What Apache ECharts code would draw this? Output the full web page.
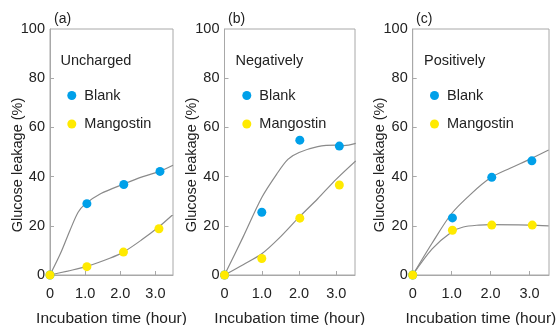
<!DOCTYPE html>
<html>
<head>
<meta charset="utf-8">
<script src="https://cdn.jsdelivr.net/npm/echarts@6/dist/echarts.min.js"></script>
<style>html,body{margin:0;padding:0;background:#fff}#c{width:558px;height:325px}</style>
</head>
<body>
<div id="c"></div>
<script>
// ---- data ----
const xTickValues = [0, 1, 2, 3];
const yTickValues = [0, 20, 40, 60, 80, 100];
const panelLabels = ['(a)', '(b)', '(c)'];
const panelTitles = ['Uncharged', 'Negatively', 'Positively'];
const seriesNames = ['Blank', 'Mangostin'];
const xAxisName = 'Incubation time (hour)';
const yAxisName = 'Glucose leakage (%)';

// measured points [time, leakage]
const blankA = [[0, 0], [1.05, 29], [2.1, 36.8], [3.13, 42.1]];
const mangA  = [[0, 0], [1.05, 3.4], [2.09, 9.3], [3.1, 18.8]];
const blankB = [[0, 0], [1.0, 25.5], [2.02, 54.8], [3.08, 52.4]];
const mangB  = [[0, 0], [1.0, 6.7], [2.02, 23.1], [3.08, 36.6]];
const blankC = [[0, 0], [1.02, 23.2], [2.03, 39.7], [3.06, 46.4]];
const mangC  = [[0, 0], [1.02, 18.2], [2.03, 20.3], [3.07, 20.3]];

// fitted curves
const blankFitA = [[0, 0], [0.3, 8.8], [0.57, 18.2], [0.8, 25.5], [1.0, 28.8], [1.45, 33.1], [2.1, 37], [2.6, 39.8], [3.1, 42], [3.5, 44.6]];
const mangFitA  = [[0, 0], [0.5, 1.6], [1.05, 3.5], [1.7, 6.8], [2.1, 9.4], [2.6, 14.2], [3.1, 19.6], [3.5, 24.6]];
const blankFitB = [[0, 0], [0.5, 15.5], [1.0, 31.5], [1.4, 41], [1.7, 47], [2.0, 49.8], [2.5, 52.2], [3.0, 52.8], [3.2, 52.6], [3.52, 53.5]];
const mangFitB  = [[0, 0], [0.5, 4.2], [1.0, 8.6], [1.5, 15.5], [2.0, 23.5], [2.5, 31], [3.0, 39], [3.52, 46.4]];
const blankFitC = [[0, 0], [0.5, 13], [1.0, 25], [1.5, 33], [2.0, 39.5], [2.5, 43.4], [3.0, 47], [3.49, 50.8]];
const mangFitC  = [[0, 0], [0.5, 10.6], [1.0, 17.5], [1.3, 19.5], [1.7, 20.3], [2.0, 20.5], [3.0, 20.3], [3.49, 20]];

const points = [[blankA, mangA], [blankB, mangB], [blankC, mangC]];
const fits = [[blankFitA, mangFitA], [blankFitB, mangFitB], [blankFitC, mangFitC]];

// ---- style / layout ----
const FONT = "'Liberation Sans', Arial, sans-serif";
const TXT = '#222';
const FRAME = '#a8a8a8';
const LINE = '#8a8a8a';
const COLORS = ['#00a0e9', '#ffea00'];
const grids = [
  {left: 50, right: 385, top: 29, bottom: 50},
  {left: 224.5, right: 203, top: 29, bottom: 50},
  {left: 412.7, right: 9, top: 29, bottom: 50}
];
const labelPos = [54, 228, 416];
const titlePos = [60.5, 235.5, 424];
const legendPos = [67.3, 242.3, 430];

const option = {
  animation: false,
  textStyle: {fontFamily: FONT},
  grid: grids.map(g => Object.assign({show: true, borderColor: FRAME, borderWidth: 1, backgroundColor: 'transparent',
    containLabel: false, outerBoundsMode: 'none'}, g)),
  title: [].concat(
    panelLabels.map((t, i) => ({text: t, left: labelPos[i], top: 12, padding: 0,
      textStyle: {fontSize: 14, fontWeight: 'normal', color: TXT, fontFamily: FONT}})),
    panelTitles.map((t, i) => ({text: t, left: titlePos[i], top: 53, padding: 0,
      textStyle: {fontSize: 14.5, fontWeight: 'normal', color: TXT, fontFamily: FONT}}))
  ),
  legend: legendPos.map(l => ({
    left: l, top: 88, orient: 'vertical', padding: 0, itemWidth: 15, itemHeight: 9, itemGap: 13.5,
    data: seriesNames.map(n => ({name: n, icon: 'circle'})),
    textStyle: {fontSize: 14.5, color: TXT, fontFamily: FONT},
    selectedMode: false
  })),
  xAxis: grids.map((g, i) => ({
    type: 'value', gridIndex: i, min: 0, max: 3.5,
    name: xAxisName, nameLocation: 'middle', nameGap: 36, nameMoveOverlap: false,
    nameTextStyle: {fontSize: 15.5, color: TXT, fontFamily: FONT},
    axisLine: {lineStyle: {color: FRAME}},
    axisTick: {inside: true, length: 4, customValues: xTickValues.slice(1), lineStyle: {color: FRAME}},
    axisLabel: {customValues: xTickValues, margin: 11, fontSize: 14.5, color: TXT, fontFamily: FONT,
      formatter: v => v === 0 ? '0' : v.toFixed(1)},
    splitLine: {show: false}
  })),
  yAxis: grids.map((g, i) => ({
    type: 'value', gridIndex: i, min: 0, max: 100, interval: 20,
    name: yAxisName, nameLocation: 'middle', nameGap: 25, nameRotate: 90, nameMoveOverlap: false,
    nameTextStyle: {fontSize: 14.5, color: TXT, fontFamily: FONT, padding: [0, 26, 0, 0]},
    axisLine: {show: true, lineStyle: {color: FRAME}},
    axisTick: {show: true, inside: true, length: 4, customValues: yTickValues.slice(1, 5), lineStyle: {color: FRAME}},
    axisLabel: {customValues: yTickValues, margin: 5, fontSize: 14.5, color: TXT, fontFamily: FONT},
    splitLine: {show: false}
  })),
  series: []
};

for (let p = 0; p < 3; p++) {
  for (let s = 0; s < 2; s++) {
    option.series.push({
      type: 'line', name: seriesNames[s] + ' fit', xAxisIndex: p, yAxisIndex: p,
      data: fits[p][s], smooth: 0.3, showSymbol: false, symbol: 'none',
      lineStyle: {color: LINE, width: 1.2}, z: 2, silent: true
    });
  }
}
for (let p = 0; p < 3; p++) {
  for (let s = 0; s < 2; s++) {
    option.series.push({
      type: 'scatter', name: seriesNames[s], xAxisIndex: p, yAxisIndex: p,
      data: points[p][s], symbol: 'circle', symbolSize: 9,
      itemStyle: {color: COLORS[s], opacity: 1}, z: 5
    });
  }
}

const chart = echarts.init(document.getElementById('c'), null, {renderer: 'canvas'});
chart.setOption(option);
</script>
</body>
</html>
